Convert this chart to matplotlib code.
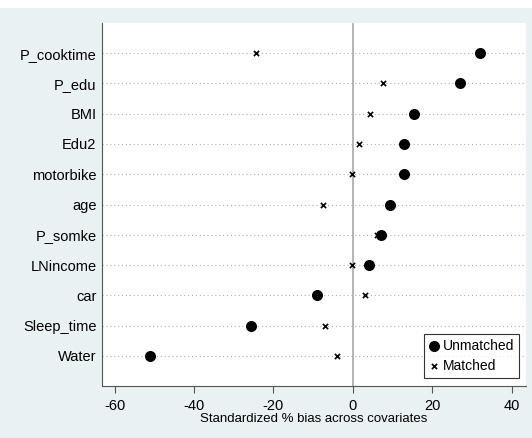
import matplotlib.pyplot as plt
import numpy as np

plt.rcParams['font.family'] = ['Liberation Sans', 'DejaVu Sans']

# Covariates from top to bottom
covariates = ['P_cooktime', 'P_edu', 'BMI', 'Edu2', 'motorbike', 'age',
              'P_somke', 'LNincome', 'car', 'Sleep_time', 'Water']
unmatched = [32.0, 27.0, 15.5, 12.8, 12.8, 9.3, 7.2, 4.0, -9.0, -25.7, -51.1]
matched = [-24.4, 7.6, 4.3, 1.6, -0.1, -7.6, 6.0, -0.1, 3.1, -7.0, -4.1]
xticks = [-60, -40, -20, 0, 20, 40]

bg = '#eaf1f3'
fig = plt.figure(figsize=(5.32, 4.38), dpi=100, facecolor=bg)
# thin white strip at the very top like the screenshot
fig.patches.append(plt.Rectangle((0, 0.982), 1, 0.018, transform=fig.transFigure,
                                 facecolor='white', edgecolor='none'))
ax = fig.add_axes([0.1917, 0.1187, 0.7970, 0.8288])
ax.set_facecolor('white')

n = len(covariates)
ypos = np.arange(n, 0, -1)

for y in ypos:
    ax.axhline(y, color='#b0b0b0', linestyle=(0, (1, 2.5)), linewidth=0.8, zorder=1)
ax.axvline(0, color='#a8a8a8', linewidth=1.2, zorder=1)

ax.scatter(unmatched, ypos, s=48, color='black', marker='o', zorder=3, label='Unmatched')
ax.scatter(matched, ypos, s=14, color='black', marker='x', linewidths=1.2, zorder=3,
           label='Matched')

ax.set_xlim(-63.2, 43.6)
ax.set_ylim(0, n + 1)
ax.set_yticks(ypos)
ax.set_yticklabels(covariates, fontsize=10.5)
ax.set_xticks(xticks)
ax.set_xticklabels([str(t) for t in xticks], fontsize=10.5)
ax.tick_params(axis='y', length=0, pad=4)
ax.tick_params(axis='x', length=5, color='#555555', pad=4)
ax.set_xlabel('Standardized % bias across covariates', fontsize=9.5, labelpad=0)

ax.spines['top'].set_visible(False)
ax.spines['right'].set_visible(False)
ax.spines['left'].set_color('#555555')
ax.spines['bottom'].set_color('#555555')

leg = ax.legend(loc='lower right', fontsize=10, frameon=True, fancybox=False,
                handletextpad=0.2, borderpad=0.35, handlelength=0.8,
                borderaxespad=0.2, labelspacing=0.45,
                bbox_to_anchor=(0.99, 0.015))
leg.get_frame().set_edgecolor('black')
leg.get_frame().set_linewidth(0.8)

fig.savefig('out.png', dpi=100, facecolor=bg)
